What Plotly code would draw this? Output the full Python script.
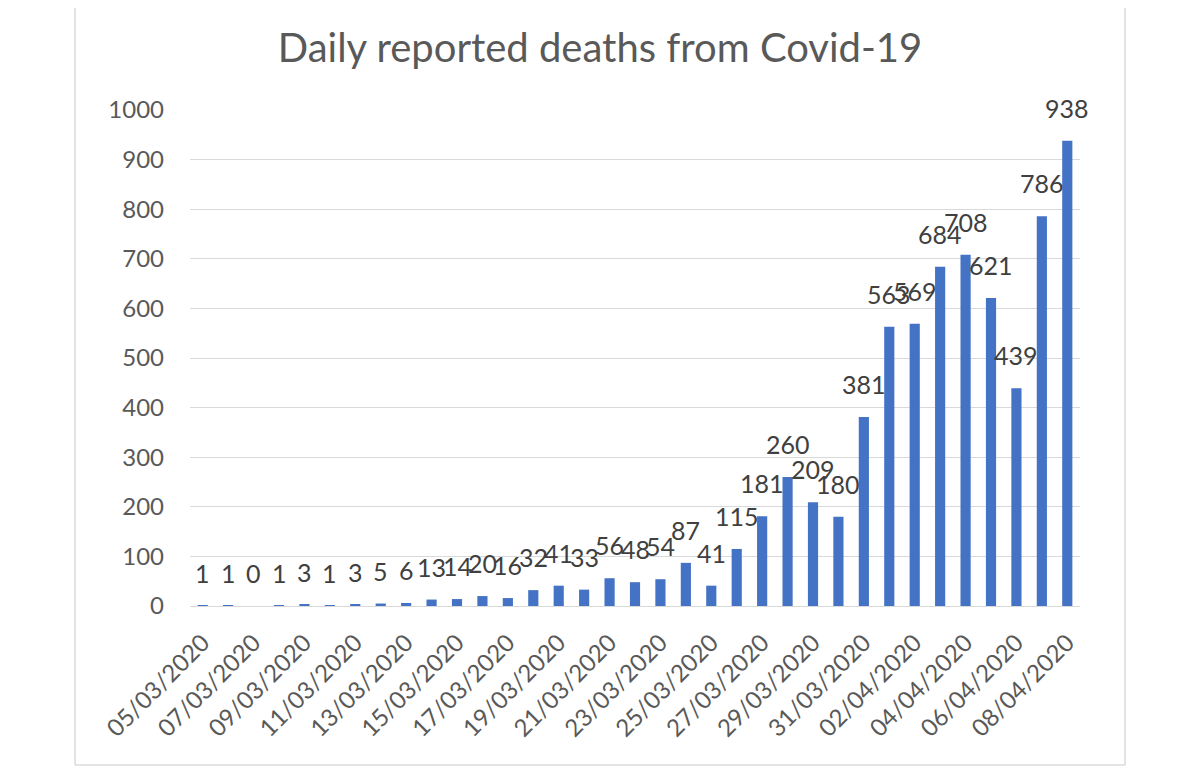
import plotly.graph_objects as go

dates = ["05/03/2020", "06/03/2020", "07/03/2020", "08/03/2020", "09/03/2020", "10/03/2020",
         "11/03/2020", "12/03/2020", "13/03/2020", "14/03/2020", "15/03/2020", "16/03/2020",
         "17/03/2020", "18/03/2020", "19/03/2020", "20/03/2020", "21/03/2020", "22/03/2020",
         "23/03/2020", "24/03/2020", "25/03/2020", "26/03/2020", "27/03/2020", "28/03/2020",
         "29/03/2020", "30/03/2020", "31/03/2020", "01/04/2020", "02/04/2020", "03/04/2020",
         "04/04/2020", "05/04/2020", "06/04/2020", "07/04/2020", "08/04/2020"]
deaths = [1, 1, 0, 1, 3, 1, 3, 5, 6, 13, 14, 20, 16, 32, 41, 33, 56, 48, 54, 87, 41,
          115, 181, 260, 209, 180, 381, 563, 569, 684, 708, 621, 439, 786, 938]
y_ticks = [0, 100, 200, 300, 400, 500, 600, 700, 800, 900, 1000]
x_ticks = dates[::2]

FONT = "Lato, 'Open Sans', sans-serif"

W, H = 1192, 771
PL, PR, PT, PB = 182, 1072, 102, 598  # plot area in figure pixels

fig = go.Figure()
fig.add_trace(go.Bar(x=dates, y=deaths, marker=dict(color="#4472C4", line=dict(width=0)),
                     hoverinfo="x+y"))

annotations = []
for d, v in zip(dates, deaths):
    annotations.append(dict(x=d, y=v, xref="x", yref="y", text=str(v), showarrow=False,
                            yanchor="bottom", yshift=16,
                            font=dict(family=FONT, size=25, color="#404040")))

pw, ph = PR - PL, PB - PT
fig.update_layout(
    width=W, height=H,
    margin=dict(l=PL, r=W - PR, t=PT, b=H - PB, autoexpand=False),
    paper_bgcolor="white", plot_bgcolor="white",
    title=dict(text="Daily reported deaths from Covid-19", x=592 / W, xref="container",
               xanchor="center", y=1 - 40 / H, yref="container", yanchor="middle",
               font=dict(family=FONT, size=40, color="#595959")),
    bargap=0.6,
    showlegend=False,
    annotations=annotations,
    xaxis=dict(type="category", tickmode="array", tickvals=x_ticks, ticktext=x_ticks,
               range=[-0.5, len(dates) - 0.5], automargin=False,
               tickangle=-45, showgrid=False, showline=True, linecolor="#d9d9d9", linewidth=1,
               ticks="", ticklabelstandoff=12,
               tickfont=dict(family=FONT, size=24, color="#595959")),
    yaxis=dict(range=[0, 1000], tickmode="array", tickvals=y_ticks, showgrid=True,
               automargin=False,
               gridcolor="#d9d9d9", gridwidth=1, zeroline=False, showline=False, ticks="",
               ticklabelstandoff=25,
               tickfont=dict(family=FONT, size=24, color="#595959")),
    shapes=[dict(type="rect", xref="paper", yref="paper",
                 x0=(67 - PL) / pw, x1=(1117 - PL) / pw,
                 y0=(PB - 757) / ph, y1=1.5,
                 line=dict(color="#c8c8c8", width=1), fillcolor="rgba(0,0,0,0)", layer="below")],
)

fig.write_html("out.html")
